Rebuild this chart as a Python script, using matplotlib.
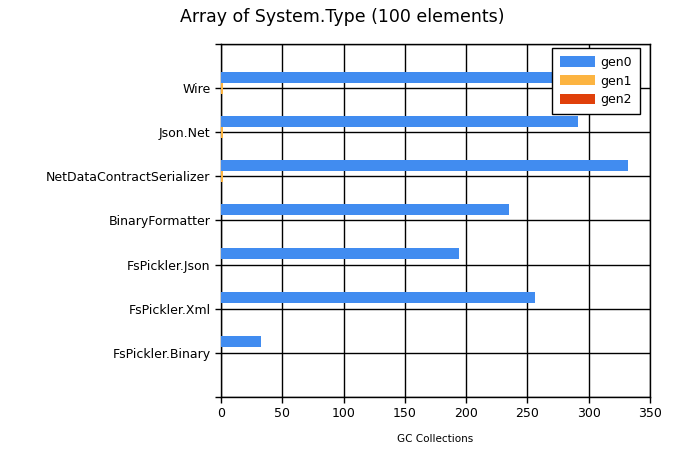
import matplotlib.pyplot as plt
import numpy as np

# data (bottom to top)
categories = ["FsPickler.Binary", "FsPickler.Xml", "FsPickler.Json", "BinaryFormatter",
              "NetDataContractSerializer", "Json.Net", "Wire"]
gen0 = [33, 256, 194, 235, 332, 291, 300]
gen1 = [0, 0, 0, 0, 1.5, 1.5, 1.5]
gen2 = [0, 0, 0, 0, 0, 0, 0]

colors = ["#418CF0", "#FCB441", "#E0400A"]

fig = plt.figure(figsize=(6.84, 4.61), dpi=100)
ax = fig.add_axes([0.3231, 0.1388, 0.6272, 0.7658])

pos = np.arange(1, len(categories) + 1)
h = 0.25
ax.barh(pos + h, gen0, height=h, color=colors[0], label="gen0", zorder=3)
ax.barh(pos, gen1, height=h, color=colors[1], label="gen1", zorder=3)
ax.barh(pos - h, gen2, height=h, color=colors[2], label="gen2", zorder=3)

ax.set_xlim(0, 350)
ax.set_ylim(0, len(categories) + 1)
ax.set_xticks(range(0, 351, 50))
ax.set_yticks(range(0, len(categories) + 2))
ax.set_yticklabels([""] + categories + [""])

ax.grid(True, color="black", linewidth=1.0, zorder=1)
for s in ax.spines.values():
    s.set_linewidth(1.0)
ax.tick_params(axis="both", labelsize=9, length=4, width=1.0, direction="out")

ax.set_xlabel("GC Collections", fontsize=7.5, labelpad=10)
fig.suptitle("Array of System.Type (100 elements)", fontsize=12.5, y=0.982)

leg = ax.legend(loc="upper right", bbox_to_anchor=(0.977, 0.989), borderaxespad=0,
                fontsize=9, fancybox=False, framealpha=1, edgecolor="black",
                handlelength=2.8, handleheight=0.9, labelspacing=0.45,
                borderpad=0.65, handletextpad=0.4)
leg.get_frame().set_linewidth(1.0)
leg.set_zorder(5)

fig.savefig("out.png", dpi=100)
